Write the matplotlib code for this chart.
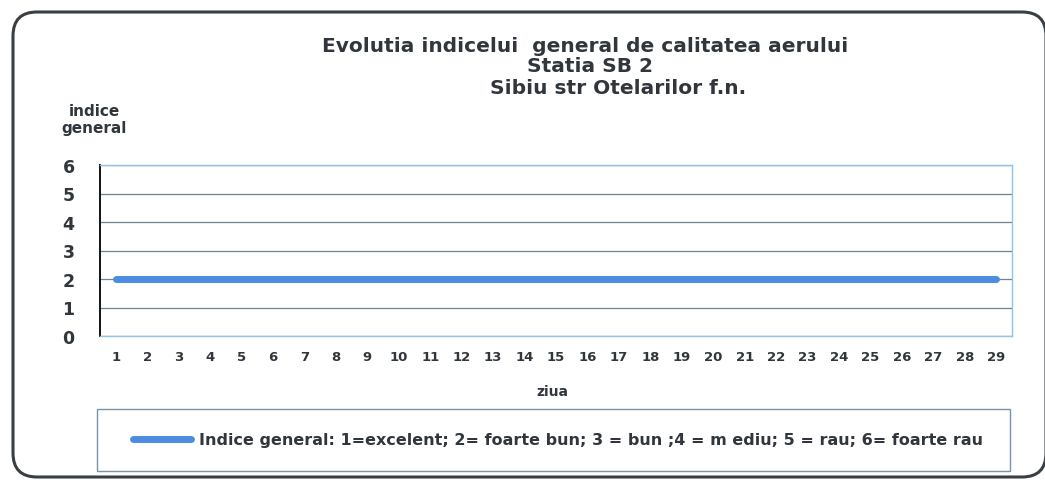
import numpy as np
import matplotlib
matplotlib.use('Agg')
import matplotlib.pyplot as plt
from matplotlib.patches import FancyBboxPatch, Rectangle
from matplotlib.transforms import Affine2D

# data
zile = list(range(1, 30))
indice = [2] * 29
y_ticks = [0, 1, 2, 3, 4, 5, 6]

titlu1 = 'Evolutia indicelui  general de calitatea aerului'
titlu2 = 'Statia SB 2'
titlu3 = 'Sibiu str Otelarilor f.n.'
eticheta = 'Indice general: 1=excelent; 2= foarte bun; 3 = bun ;4 = m ediu; 5 = rau; 6= foarte rau'

plt.rcParams['font.family'] = ['DejaVu Sans']
txt = '#30363b'
W, H = 1045, 481

fig = plt.figure(figsize=(10.45, 4.81), dpi=100)
px = Affine2D().scale(1 / W, 1 / H) + fig.transFigure   # pixel coords, origin bottom-left

# rounded outer frame (right side runs off the page)
fig.patches.append(FancyBboxPatch((13, 3), 1033, 465,
                                  boxstyle='round,pad=0,rounding_size=24',
                                  transform=px, fill=False,
                                  edgecolor='#3a3f44', linewidth=2.2, zorder=0))

ax = fig.add_axes([100 / W, 1 - 337 / H, 912 / W, 171 / H])
ax.plot(zile, indice, color='#4d8ce0', linewidth=5, solid_capstyle='round',
        label=eticheta, zorder=3)
ax.set_xlim(0.5, 29.5)
ax.set_ylim(0, 6)
ax.set_yticks(y_ticks)
ax.set_xticks(zile)
ax.tick_params(axis='both', length=0, colors=txt)
ax.tick_params(axis='y', labelsize=12.5, pad=27)
ax.tick_params(axis='x', labelsize=9.5, pad=10)
for lab in ax.get_xticklabels() + ax.get_yticklabels():
    lab.set_fontweight('bold')
for lab in ax.get_yticklabels():
    lab.set_horizontalalignment('left')
ax.grid(axis='y', color='#6f8596', linewidth=0.9)
ax.spines['left'].set_color('#111111')
ax.spines['left'].set_linewidth(1.4)
for s in ['top', 'right', 'bottom']:
    ax.spines[s].set_color('#8fc3e6')
    ax.spines[s].set_linewidth(1)

fig.text(585, H - 47, titlu1, transform=px, ha='center', va='center',
         fontsize=14.5, fontweight='bold', color=txt)
fig.text(590, H - 67, titlu2, transform=px, ha='center', va='center',
         fontsize=14.5, fontweight='bold', color=txt)
fig.text(618, H - 88, titlu3, transform=px, ha='center', va='center',
         fontsize=14.5, fontweight='bold', color=txt)
fig.text(94, H - 111, 'indice', transform=px, ha='center', va='center',
         fontsize=11, fontweight='bold', color=txt)
fig.text(94, H - 128, 'general', transform=px, ha='center', va='center',
         fontsize=11, fontweight='bold', color=txt)
fig.text(552, H - 392, 'ziua', transform=px, ha='center', va='center',
         fontsize=10, fontweight='bold', color=txt)

# legend box
fig.patches.append(Rectangle((97, H - 472), 913, 62, transform=px, fill=False,
                             edgecolor='#7a93a8', linewidth=1))
h, l = ax.get_legend_handles_labels()
leg = fig.legend(h, l, loc='center', bbox_to_anchor=(558 / W, 1 - 441 / H),
                 frameon=False, fontsize=11.5, handlelength=3.6,
                 handletextpad=0.5)
for t in leg.get_texts():
    t.set_color(txt)
    t.set_fontweight('bold')

fig.savefig('out.png', dpi=100)
